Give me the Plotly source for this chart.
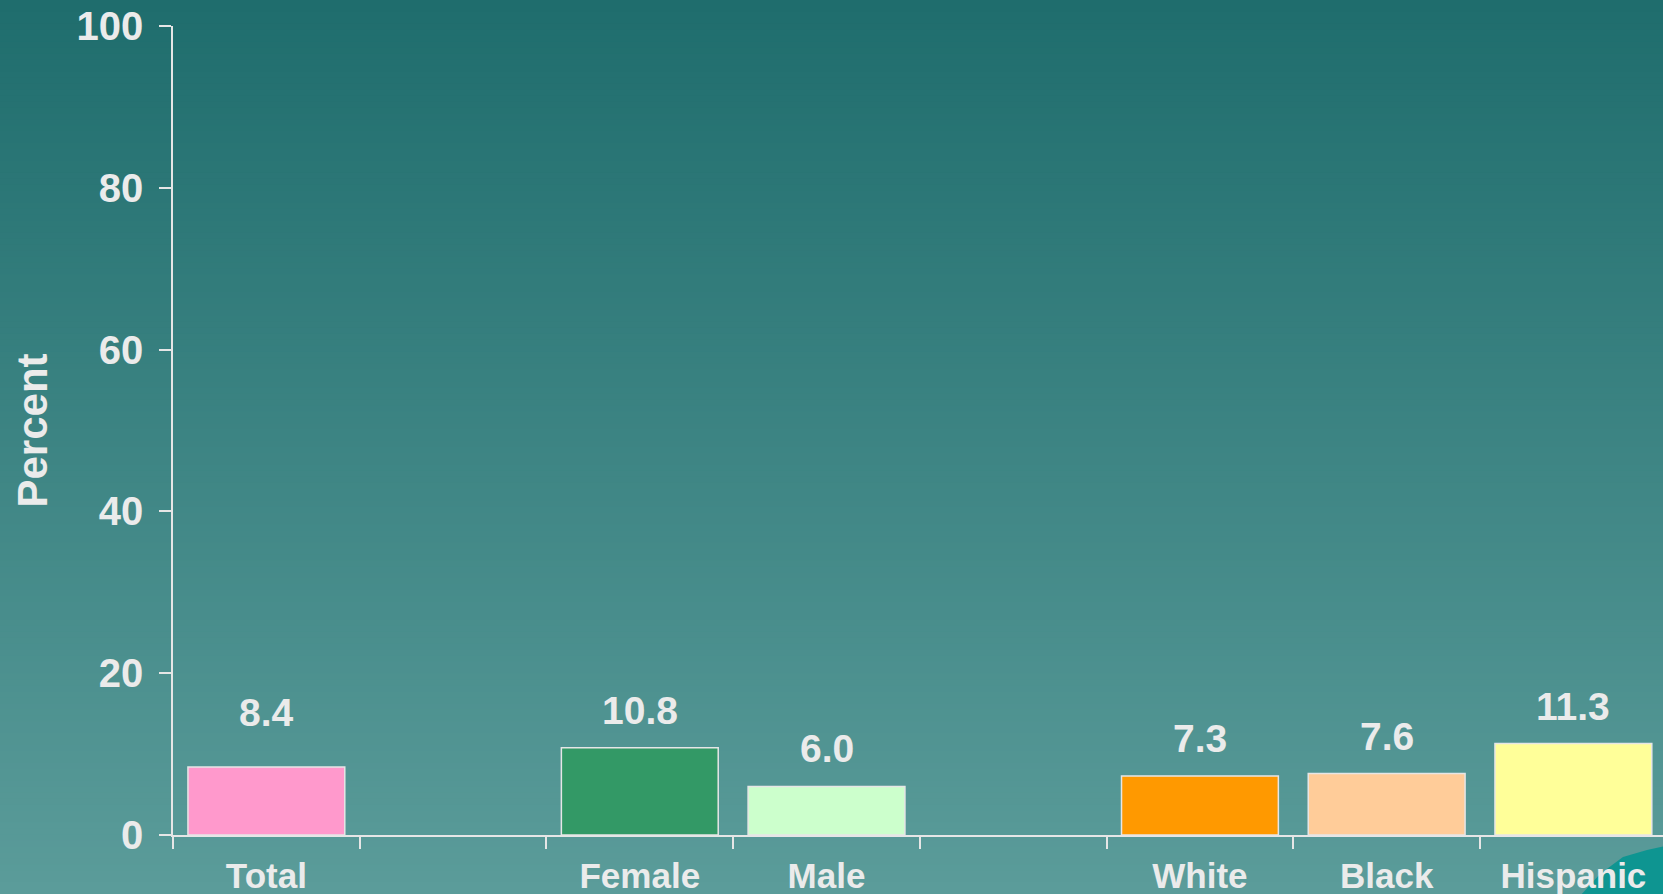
import plotly.graph_objects as go

# ---- data ----
categories = ["Total", " ", "Female", "Male", "  ", "White", "Black", "Hispanic"]
bar_categories = ["Total", "Female", "Male", "White", "Black", "Hispanic"]
values = [8.4, 10.8, 6.0, 7.3, 7.6, 11.3]
value_labels = ["8.4", "10.8", "6.0", "7.3", "7.6", "11.3"]
bar_colors = ["#ff99cc", "#339966", "#ccffcc", "#ff9900", "#ffcc99", "#ffff99"]
y_ticks = [0, 20, 40, 60, 80, 100]

# ---- layout geometry ----
W, H = 1663, 894
ML, MR, MT, MB = 173, 0, 26, 59
PW, PH = W - ML - MR, H - MT - MB

def px_x(px):
    return (px - ML) / PW

def px_y(py):
    return 1 - (py - MT) / PH

TXT = "#ebebeb"
FONT = "Liberation Sans, Arial, sans-serif"

fig = go.Figure()
fig.add_trace(go.Bar(
    x=bar_categories, y=values,
    marker=dict(color=bar_colors, line=dict(color="#e6e6e6", width=1.5)),
    width=0.84, hoverinfo="skip", showlegend=False,
))

# value labels
label_extra = {"Total": 17}
for c, v, t in zip(bar_categories, values, value_labels):
    fig.add_annotation(x=c, y=v, text="<b>%s</b>" % t, showarrow=False,
                       yanchor="bottom", yshift=14 + label_extra.get(c, 0),
                       font=dict(size=39, color=TXT, family=FONT))

# y axis title
fig.add_annotation(xref="paper", yref="paper", x=px_x(32), y=0.5,
                   text="<b>Percent</b>", textangle=-90, showarrow=False,
                   xanchor="center", yanchor="middle",
                   font=dict(size=42, color=TXT, family=FONT))

# gradient background strips
top = (31, 109, 109)
bot = (91, 156, 154)
N = 150
shapes = []
for i in range(N):
    f = i / (N - 1)
    col = tuple(round(top[k] + (bot[k] - top[k]) * f) for k in range(3))
    y0 = px_y(i * H / N)
    y1 = px_y((i + 1) * H / N + 1)
    shapes.append(dict(type="rect", xref="paper", yref="paper",
                       x0=px_x(-2), x1=px_x(W + 2), y0=y1, y1=y0,
                       fillcolor="rgb(%d,%d,%d)" % col, line=dict(width=0),
                       layer="below"))
# decorative corner shape
pts = [(1580, 896), (1600, 874), (1623, 857), (1647, 850), (1665, 846), (1665, 896)]
path = "M " + " L ".join("%f,%f" % (px_x(a), px_y(b)) for a, b in pts) + " Z"
shapes.append(dict(type="path", xref="paper", yref="paper", path=path,
                   fillcolor="#0e9591", line=dict(width=0), layer="below"))

fig.update_layout(
    width=W, height=H,
    margin=dict(l=ML, r=MR, t=MT, b=MB, pad=0, autoexpand=False),
    paper_bgcolor="#3f8483", plot_bgcolor="rgba(0,0,0,0)",
    shapes=shapes,
    font=dict(family=FONT, color=TXT),
    xaxis=dict(
        type="category", categoryorder="array", categoryarray=categories,
        range=[-0.5, 7.48], showline=True, linecolor="#e6e6e6", linewidth=1.5,
        ticks="outside", tickson="boundaries", ticklen=12, tickcolor="#e6e6e6",
        tickwidth=1.5, showgrid=False, zeroline=False, automargin=False,
        ticklabelstandoff=9,
        tickvals=categories, ticktext=["<b>%s</b>" % c for c in categories],
        tickfont=dict(size=35, color=TXT, family=FONT),
    ),
    yaxis=dict(
        range=[0, 100], tickvals=y_ticks,
        ticktext=["<b>%d</b>" % v for v in y_ticks],
        showline=True, linecolor="#e6e6e6", linewidth=1.5,
        ticks="outside", ticklen=12, tickcolor="#e6e6e6", tickwidth=1.5,
        showgrid=False, zeroline=False, ticklabelstandoff=8, automargin=False,
        tickfont=dict(size=40, color=TXT, family=FONT),
    ),
)

fig.write_html("out.html", config={"displayModeBar": False},
               post_script="document.body.style.margin='0';document.body.style.padding='0';")
